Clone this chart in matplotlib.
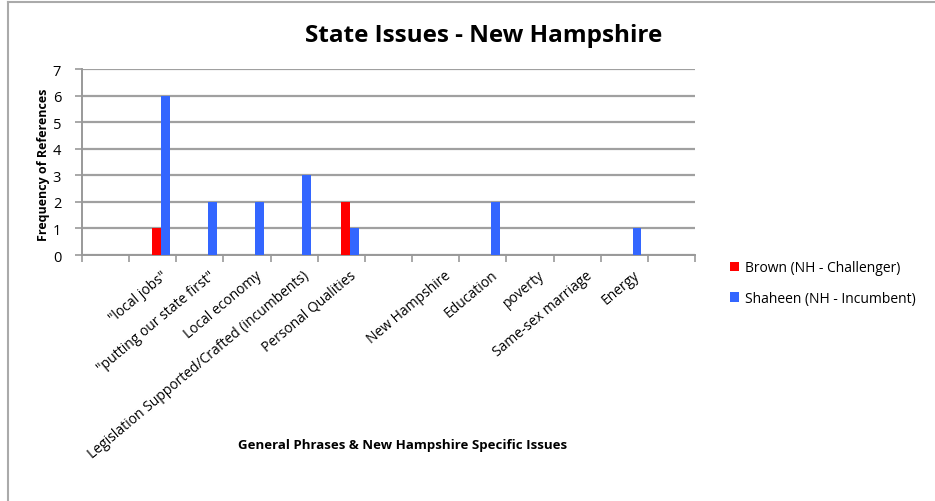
import matplotlib
matplotlib.use("Agg")
import matplotlib.pyplot as plt
from matplotlib.lines import Line2D
import numpy as np

plt.rcParams['font.family'] = ['Open Sans', 'DejaVu Sans']

categories = ['"local jobs"', '"putting our state first"', 'Local economy',
              'Legislation Supported/Crafted (incumbents)', 'Personal Qualities', '',
              'New Hampshire', 'Education', 'poverty', 'Same-sex marriage', 'Energy']
brown = [1, 0, 0, 0, 2, 0, 0, 0, 0, 0, 0]
shaheen = [6, 2, 2, 3, 1, 0, 0, 2, 0, 0, 1]
series_names = ['Brown (NH - Challenger)', 'Shaheen (NH - Incumbent)']
yticks = [0, 1, 2, 3, 4, 5, 6, 7]

W, H = 935, 502
fig = plt.figure(figsize=(W / 100, H / 100), dpi=100)
ax = fig.add_axes([82 / W, 1 - 256 / H, (695 - 82) / W, (256 - 70) / H])

x = np.arange(len(categories))
bw = 0.19
b1 = ax.bar(x - bw, brown, width=bw, align='edge', color='#ff0000', zorder=3,
            label=series_names[0])
b2 = ax.bar(x, shaheen, width=bw, align='edge', color='#3366ff', zorder=3,
            label=series_names[1])

ax.set_xlim(-1.675, 11.32)
ax.set_ylim(0, 7)
ax.set_yticks(yticks)
ax.set_yticklabels([str(v) for v in yticks], fontsize=10.5)

ax.set_xticks(x)
ax.set_xticklabels(categories, rotation=40, ha='right', va='top',
                   rotation_mode='anchor', fontsize=10)
ax.tick_params(axis='x', which='major', length=0, pad=9)
ax.set_xticks(np.arange(-1, 13) - 0.675, minor=True)
ax.tick_params(axis='x', which='minor', length=5, color='#999999', width=1.2)
ax.tick_params(axis='y', length=5, color='#999999', width=1.2, pad=10)

ax.grid(axis='y', color='#a0a0a0', linewidth=1.6, zorder=0)
for s in ['top', 'right']:
    ax.spines[s].set_visible(False)
for s in ['left', 'bottom']:
    ax.spines[s].set_color('#999999')
    ax.spines[s].set_linewidth(1.4)

fig.text(484 / W, 1 - 36 / H, 'State Issues - New Hampshire', ha='center',
         va='center', fontsize=17.5, fontweight='bold')
fig.text(44 / W, 1 - 165 / H, 'Frequency of References', rotation=90,
         ha='center', va='center', fontsize=9, fontweight='bold')
fig.text(403 / W, 1 - 446 / H, 'General Phrases & New Hampshire Specific Issues',
         ha='center', va='center', fontsize=9.5, fontweight='bold')

fig.legend(handles=[b1, b2], loc='upper left',
           bbox_to_anchor=(717 / W, 1 - 249 / H), frameon=False, fontsize=10,
           handlelength=0.65, handleheight=0.65, handletextpad=0.45,
           labelspacing=1.1)

fig.add_artist(Line2D([8 / W, 8 / W], [0, 1 - 2.5 / H], transform=fig.transFigure,
                      color='#aaaaaa', lw=1.5))
fig.add_artist(Line2D([8 / W, 1], [1 - 2.5 / H, 1 - 2.5 / H],
                      transform=fig.transFigure, color='#aaaaaa', lw=1.5))

fig.savefig('out.png', dpi=100)
